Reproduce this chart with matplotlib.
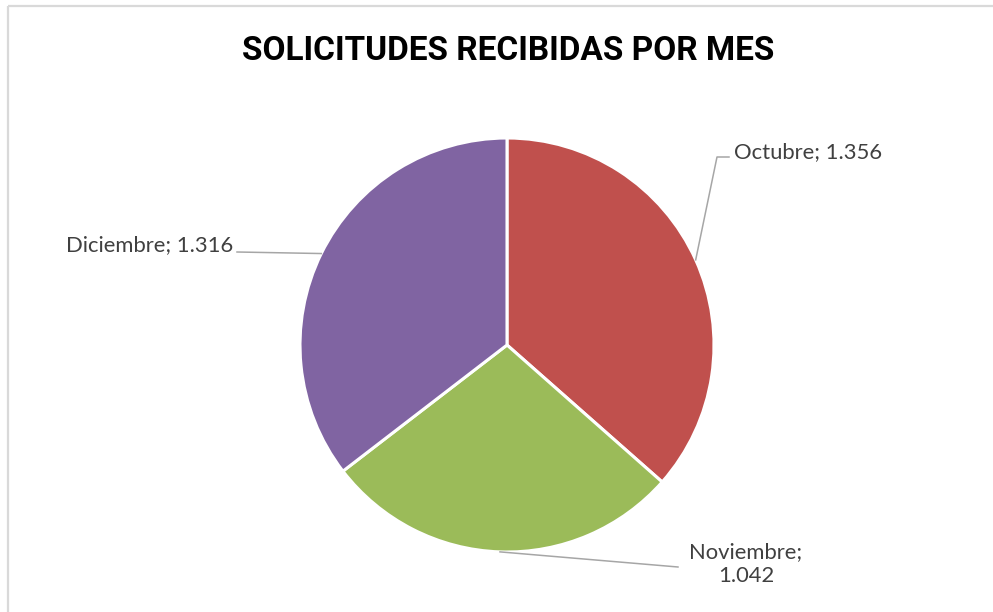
import numpy as np
import matplotlib

matplotlib.use("Agg")
import matplotlib.pyplot as plt

# data
months = ["Octubre", "Noviembre", "Diciembre"]
solicitudes = [1356, 1042, 1316]
colors = ["#C0504D", "#9BBB59", "#8064A2"]

W, H = 993, 612
fig = plt.figure(figsize=(W / 100, H / 100), dpi=100)
ax = fig.add_axes([0, 0, 1, 1])

# chart area frame (only left/top visible in the crop)
ax.plot([8, 8], [0, H - 6], color="#D9D9D9", lw=1.6, solid_capstyle="butt")
ax.plot([8, W], [H - 6, H - 6], color="#D9D9D9", lw=1.6, solid_capstyle="butt")

cx, cy, r = 507, H - 345, 207
wedges, _ = ax.pie(
    solicitudes,
    colors=colors,
    startangle=90,
    counterclock=False,
    center=(cx, cy),
    radius=r,
    wedgeprops=dict(edgecolor="white", linewidth=2.2),
    frame=True,
)
ax.set_xlim(0, W)
ax.set_ylim(0, H)
ax.axis("off")

fig.text(508 / W, 1 - 51 / H, "SOLICITUDES RECIBIDAS POR MES",
         ha="center", va="center", fontsize=24, fontweight="bold",
         family=["Roboto", "DejaVu Sans"], color="#000000")

# label layout: (elbow points in px, text pos, alignment)
label_font = ["Lato", "DejaVu Sans"]
layout = {
    "Octubre": dict(pts=[(717, 157), (729, 157)], txt=(734, 152), ha="left"),
    "Noviembre": dict(pts=[(678, 567)], txt=(746, 564), ha="center"),
    "Diciembre": dict(pts=[(237, 252)], txt=(233, 245), ha="right"),
}
for w, name, val in zip(wedges, months, solicitudes):
    mid = np.deg2rad((w.theta1 + w.theta2) / 2)
    x0, y0 = cx + r * np.cos(mid), cy + r * np.sin(mid)
    lay = layout[name]
    xs = [x0] + [p[0] for p in lay["pts"]]
    ys = [y0] + [H - p[1] for p in lay["pts"]]
    ax.plot(xs, ys, color="#A6A6A6", lw=1.1)
    txt = f"{name}; {val:,}".replace(",", ".")
    if name == "Noviembre":
        txt = f"{name};\n{val:,}".replace(",", ".")
    ax.text(lay["txt"][0], H - lay["txt"][1], txt, ha=lay["ha"], va="center",
            fontsize=15.8, family=label_font, color="#404040", linespacing=1.2)

fig.savefig("out.png", dpi=100)
